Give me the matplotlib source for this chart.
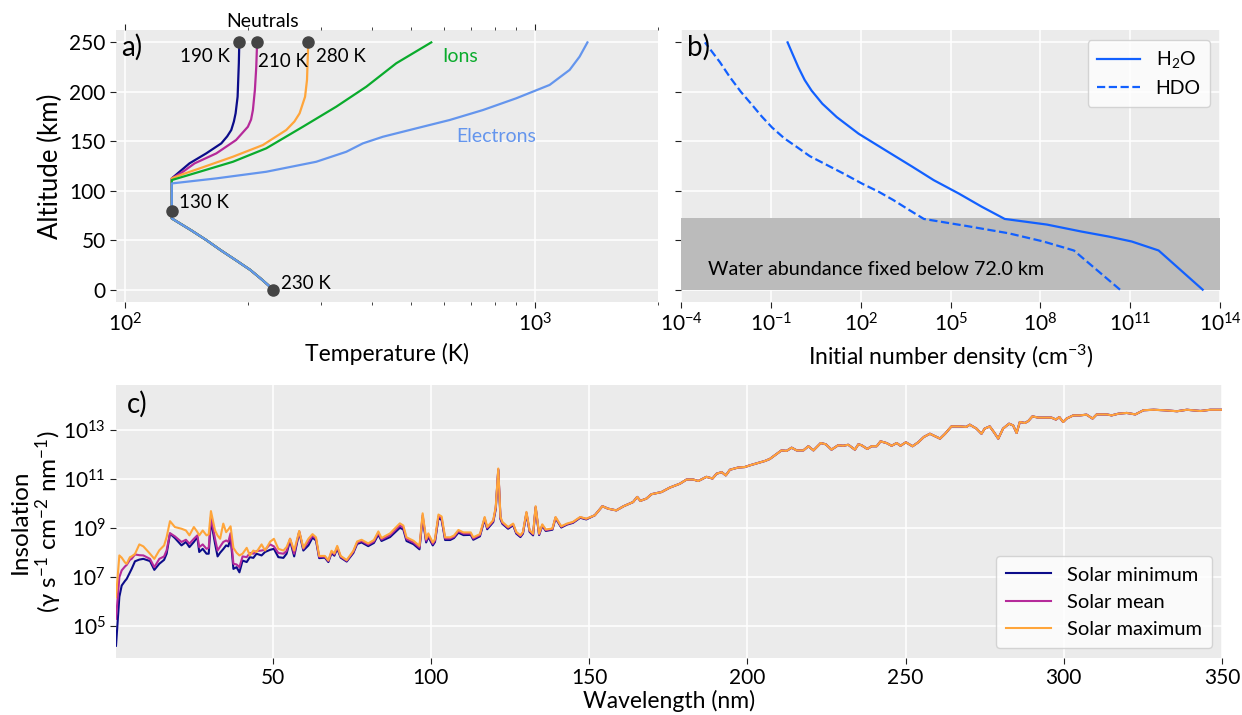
import matplotlib
matplotlib.use('Agg')
import matplotlib.pyplot as plt
import matplotlib.ticker as mticker
import numpy as np

plt.rcParams['font.family'] = ['Lato', 'DejaVu Sans']
plt.rcParams['mathtext.fontset'] = 'custom'
plt.rcParams['mathtext.rm'] = 'Lato'
plt.rcParams['mathtext.it'] = 'Lato:italic'
plt.rcParams['mathtext.bf'] = 'Lato:bold'
plt.rcParams['font.size'] = 15

# ---- panel a: temperature profiles ----
alt_lower = [0, 10, 20, 30, 40, 50, 60, 72, 90, 107.4]
t_lower = [230, 216, 202, 186, 171, 158, 145, 130, 130, 130]

alt_n190 = [112.5, 119.2, 127.7, 137.8, 147.9, 155, 161.4, 170, 178.3, 195.1, 228.9, 250]
t_n190 = [130, 135.8, 143.6, 157.8, 171.7, 177.5, 181.6, 184.3, 186.1, 188.2, 189.5, 190]
alt_n210 = [112.5, 119.2, 127.7, 137.8, 151.3, 164.7, 172, 181.6, 201.9, 225, 250]
t_n210 = [130, 138.4, 147.8, 167, 186.6, 199.4, 203, 205.1, 207.4, 209, 210]
alt_n280 = [112.5, 116.8, 122.6, 134.4, 146.2, 161.4, 170, 178.3, 195.1, 212, 250]
t_n280 = [130, 138.4, 152, 183.3, 216.9, 247.4, 259, 266.7, 275, 278, 280]
alt_ion = [110.8, 119.2, 129.3, 142.9, 164.7, 185, 205.2, 228.9, 250]
t_ion = [130, 152, 183.3, 221.1, 271.6, 327.7, 388, 459.2, 559]
alt_elec = [112.5, 119.2, 129.3, 139.4, 147.9, 154.6, 163.1, 171.5, 181.6, 193.5,
            207, 222.2, 235.6, 250]
t_elec = [167, 221.1, 292.8, 346.7, 380.6, 425.9, 513.9, 619.7, 747.4, 901.6,
          1087.5, 1217, 1287, 1345]

marker_t = [190, 210, 280, 130, 230]
marker_alt = [250, 250, 250, 80, 0]

# ---- panel b: water profiles (log10 of number density) ----
alt_h2o = [0, 39.6, 48.7, 53.7, 58.7, 65.8, 71.5, 83.9, 97.3, 110.7, 124.2, 140.9, 157.7,
           174.5, 188, 201.3, 212, 224.8, 238, 250]
logn_h2o = [13.42, 11.95, 11.05, 10.28, 9.38, 8.22, 6.81, 6.04, 5.27, 4.44, 3.73, 2.83, 1.93,
            1.2, 0.72, 0.36, 0.13, -0.08, -0.27, -0.44]
alt_hdo = [0, 39.6, 48.7, 57, 64.4, 71.5, 80, 90.6, 99, 107, 117, 127.5, 135, 144, 153, 164,
           175, 188, 200, 215, 230, 240, 250]
logn_hdo = [10.66, 9.12, 8.1, 6.94, 5.53, 4.11, 3.65, 3.09, 2.6, 2.06, 1.45, 0.78, 0.3, -0.12,
            -0.55, -0.96, -1.3, -1.66, -2.0, -2.37, -2.7, -2.95, -3.2]
fixed_below = 72.0

# ---- panel c: solar spectra (log10 of flux) ----
wl_euv = [0.5, 1.56, 2.3, 3.35, 3.87, 4.9, 5.45, 6.5, 7.87, 9.14, 11.24, 12.61, 14.19, 15.7,
          16.5, 17.56, 19.1, 21.2, 22.6, 23.7, 25.1, 26.2, 26.8, 27.9, 29.1, 29.8, 30.5,
          31.8, 32.6, 33.4, 34.4, 35.3, 36.0, 36.7, 37.6, 38.6, 39.5, 40.5, 41.8, 42.8,
          43.9, 44.9, 46.5, 47.6, 49.2, 50.4, 51.8, 53.4, 54.4, 55.5, 56.8, 58.4, 59.7, 61.3]
min_euv = [4.2, 6.2, 6.66, 6.85, 6.93, 7.2, 7.34, 7.65, 7.72, 7.75, 7.66, 7.30, 7.55, 7.71,
           7.96, 8.78, 8.6, 8.30, 8.44, 8.23, 8.44, 8.64, 8.03, 8.16, 7.96, 7.96, 9.32,
           8.37, 7.85, 8.0, 8.15, 8.30, 8.26, 8.64, 7.34, 7.41, 7.20, 7.68, 7.62, 7.82,
           7.79, 7.96, 7.89, 8.03, 8.12, 8.16, 7.82, 7.79, 7.96, 8.50, 7.85, 8.84, 8.09, 8.30]
mean_euv = [5.30, 7.0, 7.28, 7.44, 7.5, 7.71, 7.75, 7.93, 7.9, 7.89, 7.75, 7.41, 7.75, 7.85,
            8.1, 8.80, 8.67, 8.44, 8.53, 8.37, 8.57, 8.71, 8.23, 8.34, 8.16, 8.2, 9.46,
            8.57, 8.09, 8.25, 8.44, 8.50, 8.45, 8.80, 7.55, 7.52, 7.41, 7.85, 7.82, 7.99,
            7.96, 8.07, 8.09, 8.12, 8.34, 8.26, 7.99, 7.96, 8.07, 8.57, 7.96, 8.87, 8.16, 8.44]
max_euv = [6.18, 7.89, 7.8, 7.6, 7.55, 7.82, 7.85, 7.95, 8.34, 8.26, 7.96, 7.75, 8.10, 8.30,
           8.64, 9.29, 9.05, 8.98, 8.91, 8.71, 9.05, 8.85, 8.71, 8.91, 8.71, 8.75, 9.70,
           8.91, 8.70, 8.57, 9.19, 8.84, 8.95, 9.08, 8.20, 8.0, 7.89, 7.96, 8.20, 7.89,
           8.09, 8.03, 8.34, 8.09, 8.45, 8.57, 8.16, 8.09, 8.23, 8.57, 8.09, 8.89, 8.20, 8.57]

wl_fuv = [62.6, 63.7, 64.7, 66.5, 67.6, 68.6, 69.5, 70.4, 71.5, 73.4, 75.5, 76.7, 78.1, 80.2,
          82.0, 83.4, 84.4, 87.1, 90.2, 91.3, 92.3, 94.5, 96.4, 97.4, 98.5, 99.2, 100.6,
          101.3, 102.4, 103.4, 104.5, 106.1, 107.3, 108.7, 110.3, 112.6, 113.4, 115.5,
          117.0, 117.8, 119.7, 120.5, 121.3, 122.0, 122.6, 124.4, 126.0, 127.0, 128.3,
          129.1, 130.2, 131.2, 132.3, 133.1, 134.2, 135.2, 136.3, 138.4, 139.4, 141.2,
          143.0, 144.9, 147.2, 149.1]
min_fuv = [8.62, 8.50, 7.78, 7.80, 7.62, 7.98, 7.88, 8.17, 7.80, 7.64, 7.99, 8.36, 8.42, 8.27,
           8.40, 8.74, 8.48, 8.64, 9.02, 8.95, 8.48, 8.35, 8.14, 9.44, 8.42, 8.65, 8.30,
           8.44, 9.42, 9.34, 8.52, 8.52, 8.60, 8.82, 8.72, 8.73, 8.53, 8.67, 9.37, 8.96,
           9.25, 9.78, 11.38, 9.37, 9.18, 8.98, 9.12, 8.78, 8.64, 8.78, 9.60, 8.85, 8.71,
           9.84, 8.72, 9.10, 8.89, 8.94, 9.41, 9.03, 9.15, 9.22, 9.43, 9.36]
mean_fuv = [8.70, 8.57, 7.83, 7.84, 7.66, 8.03, 7.93, 8.23, 7.84, 7.67, 8.04, 8.41, 8.48, 8.33,
            8.46, 8.81, 8.54, 8.72, 9.11, 9.03, 8.56, 8.42, 8.21, 9.53, 8.49, 8.72, 8.36,
            8.50, 9.49, 9.41, 8.58, 8.58, 8.65, 8.88, 8.78, 8.78, 8.58, 8.72, 9.42, 9.01,
            9.29, 9.83, 11.41, 9.42, 9.22, 9.02, 9.16, 8.82, 8.68, 8.82, 9.64, 8.89, 8.75,
            9.87, 8.75, 9.13, 8.92, 8.97, 9.44, 9.06, 9.17, 9.24, 9.45, 9.38]
max_fuv = [8.76, 8.63, 7.87, 7.87, 7.69, 8.08, 7.97, 8.28, 7.87, 7.70, 8.08, 8.46, 8.53, 8.38,
           8.52, 8.87, 8.60, 8.79, 9.20, 9.11, 8.63, 8.49, 8.28, 9.61, 8.56, 8.79, 8.42,
           8.56, 9.56, 9.48, 8.63, 8.63, 8.70, 8.93, 8.83, 8.83, 8.63, 8.76, 9.46, 9.05,
           9.33, 9.87, 11.44, 9.46, 9.26, 9.05, 9.19, 8.85, 8.71, 8.85, 9.67, 8.92, 8.78,
           9.90, 8.78, 9.16, 8.95, 8.99, 9.46, 9.08, 9.19, 9.26, 9.46, 9.39]

# above ~150 nm the three spectra coincide
wl_uv = [151.8, 154.2, 156.0, 158.6, 160.9, 163.9, 165.2, 166.2, 168.1, 169.7, 172.9, 175.5,
         178.7, 180.8, 182.9, 184.5, 187.1, 189.0, 190.3, 191.9, 193.2, 194.5, 197.1, 199.2,
         200.8, 203.5, 205.6, 207.1, 208.7, 210.8, 212.4, 214.0, 215.6, 217.7, 219.3, 220.9,
         223.2, 224.8, 226.6, 228.7, 230.3, 231.9, 234.0, 235.1, 236.1, 237.9, 239.3, 240.9,
         242.1, 244.0, 245.6, 247.2, 248.4, 250.1, 252.2, 254.0, 255.8, 257.7, 259.3, 260.9,
         262.5, 264.5, 267.1, 269.2, 270.3, 272.4, 274.0, 275.0, 276.6, 277.9, 279.3, 280.8,
         282.7, 284.0, 285.1, 286.1, 287.7, 288.8, 290.1, 291.9, 294.0, 296.1, 297.5, 298.6,
         299.8, 300.9, 303.0, 305.1, 307.2, 309.1, 310.4, 313.6, 315.1, 317.3, 319.9, 322.6,
         325.2, 328.4, 331.6, 335.8, 338.9, 343.2, 346.3, 350.0]
flux_uv = [9.53, 9.90, 9.80, 9.73, 9.90, 10.07, 10.28, 10.12, 10.21, 10.39, 10.48, 10.66,
           10.82, 10.99, 10.99, 10.93, 11.10, 11.03, 11.23, 11.29, 11.16, 11.39, 11.48, 11.50,
           11.57, 11.67, 11.75, 11.83, 11.98, 12.18, 12.16, 12.29, 12.18, 12.18, 12.35, 12.18,
           12.48, 12.43, 12.21, 12.39, 12.37, 12.41, 12.21, 12.43, 12.39, 12.24, 12.35, 12.35,
           12.55, 12.48, 12.37, 12.48, 12.37, 12.51, 12.35, 12.51, 12.73, 12.86, 12.76, 12.66,
           12.86, 13.16, 13.16, 13.14, 13.23, 13.07, 12.86, 13.07, 13.16, 12.93, 12.66, 13.07,
           13.27, 13.20, 12.89, 13.34, 13.30, 13.38, 13.57, 13.52, 13.52, 13.52, 13.44, 13.54,
           13.34, 13.48, 13.61, 13.61, 13.64, 13.48, 13.65, 13.65, 13.61, 13.68, 13.71, 13.65,
           13.82, 13.84, 13.82, 13.78, 13.84, 13.79, 13.84, 13.84]

# colours
c_min, c_mean, c_max = '#0c0c8a', '#b52a9a', '#ffa53a'
c_ion, c_elec, c_water = '#0aab2c', '#6495ed', '#1260ff'
bg = '#ebebeb'


def style(ax):
    ax.set_facecolor(bg)
    for s in ax.spines.values():
        s.set_visible(False)
    ax.grid(True, which='major', color='white', lw=1.1)
    ax.set_axisbelow(True)
    ax.tick_params(which='both', direction='out', color='#222222', labelsize=15)
    ax.tick_params(which='major', length=4)
    ax.tick_params(which='minor', length=2.5)


fig = plt.figure(figsize=(12.42, 7.15), dpi=100)
ax_a = fig.add_axes([0.0934, 0.5776, 0.4364, 0.3804])
ax_b = fig.add_axes([0.5483, 0.5776, 0.4340, 0.3804], sharey=ax_a)
ax_c = fig.add_axes([0.0934, 0.0797, 0.8905, 0.3818])

# ---------------- a) ----------------
style(ax_a)
for a_up, t_up, col in [(alt_n190, t_n190, c_min), (alt_n210, t_n210, c_mean),
                        (alt_n280, t_n280, c_max), (alt_ion, t_ion, c_ion),
                        (alt_elec, t_elec, c_elec)]:
    ax_a.plot(t_lower + t_up, alt_lower + a_up, color=col, lw=1.6)
ax_a.plot(marker_t, marker_alt, 'o', color='#444444', ms=8, zorder=5, clip_on=False)
ax_a.set_xscale('log')
ax_a.set_xlim(95, 2000)
ax_a.set_ylim(-12.5, 262.5)
ax_a.set_yticks([0, 50, 100, 150, 200, 250])
ax_a.xaxis.set_minor_formatter(mticker.NullFormatter())
ax_a.tick_params(which='both', top=True)
ax_a.set_xlabel('Temperature (K)', fontsize=16.5, labelpad=5)
ax_a.set_ylabel('Altitude (km)', fontsize=18.5)
ax_a.yaxis.set_label_coords(-0.097, 0.5)

ax_a.text(216, 271, 'Neutrals', ha='center', va='center', fontsize=14)
ax_a.text(180, 236, '190 K', ha='right', va='center', fontsize=13.5)
ax_a.text(211, 231, '210 K', ha='left', va='center', fontsize=13.5)
ax_a.text(292, 236, '280 K', ha='left', va='center', fontsize=13.5)
ax_a.text(596, 236, 'Ions', ha='left', va='center', fontsize=14, color=c_ion)
ax_a.text(644, 155, 'Electrons', ha='left', va='center', fontsize=14, color=c_elec)
ax_a.text(135, 88, '130 K', ha='left', va='center', fontsize=13.5)
ax_a.text(240, 6, '230 K', ha='left', va='center', fontsize=13.5)
ax_a.text(0.01, 0.9375, 'a)', transform=ax_a.transAxes, ha='left', va='center', fontsize=20)

# ---------------- b) ----------------
style(ax_b)
ax_b.axhspan(0, fixed_below, color='#bbbbbb', lw=0, zorder=1)
ax_b.plot(10.0 ** np.array(logn_h2o), alt_h2o, color=c_water, lw=1.6, label='H$_2$O', zorder=3)
ax_b.plot(10.0 ** np.array(logn_hdo), alt_hdo, color=c_water, lw=1.6, ls='--', label='HDO', zorder=3)
ax_b.set_xscale('log')
ax_b.set_xlim(1e-4, 1e14)
ax_b.set_xticks([1e-4, 1e-1, 1e2, 1e5, 1e8, 1e11, 1e14])
ax_b.xaxis.set_minor_locator(mticker.NullLocator())
ax_b.tick_params(labelleft=False)
ax_b.set_xlabel('Initial number density (cm$^{-3}$)', fontsize=16.5, labelpad=5)
ax_b.text(10 ** -3.1, 20, 'Water abundance fixed below %.1f km' % fixed_below,
          ha='left', va='center', fontsize=14.2, zorder=4)
ax_b.text(0.012, 0.9375, 'b)', transform=ax_b.transAxes, ha='left', va='center', fontsize=20)
ax_b.legend(loc='upper right', fontsize=14, handlelength=2.2, borderpad=0.5)

# ---------------- c) ----------------
style(ax_c)
wl_all = np.array(wl_euv + wl_fuv + wl_uv)
for vals_e, vals_f, col, lab in [(min_euv, min_fuv, c_min, 'Solar minimum'),
                                 (mean_euv, mean_fuv, c_mean, 'Solar mean'),
                                 (max_euv, max_fuv, c_max, 'Solar maximum')]:
    ax_c.plot(wl_all, 10.0 ** np.array(vals_e + vals_f + flux_uv), color=col, lw=1.5, label=lab)
ax_c.set_yscale('log')
ax_c.set_xlim(0.5, 350)
ax_c.set_ylim(10 ** 3.70, 10 ** 14.85)
ax_c.set_yticks([1e5, 1e7, 1e9, 1e11, 1e13])
ax_c.yaxis.set_minor_locator(mticker.NullLocator())
ax_c.set_xticks([50, 100, 150, 200, 250, 300, 350])
ax_c.set_xlabel('Wavelength (nm)', fontsize=16.5, labelpad=1)
ax_c.set_ylabel('Insolation\n(γ s$^{-1}$ cm$^{-2}$ nm$^{-1}$)', fontsize=17.5, linespacing=1.1)
ax_c.yaxis.set_label_coords(-0.047, 0.5)
ax_c.text(0.01, 0.93, 'c)', transform=ax_c.transAxes, ha='left', va='center', fontsize=20)
ax_c.legend(loc='lower right', fontsize=14.5, handlelength=2.2, borderpad=0.5)

fig.savefig('out.png', dpi=100)
